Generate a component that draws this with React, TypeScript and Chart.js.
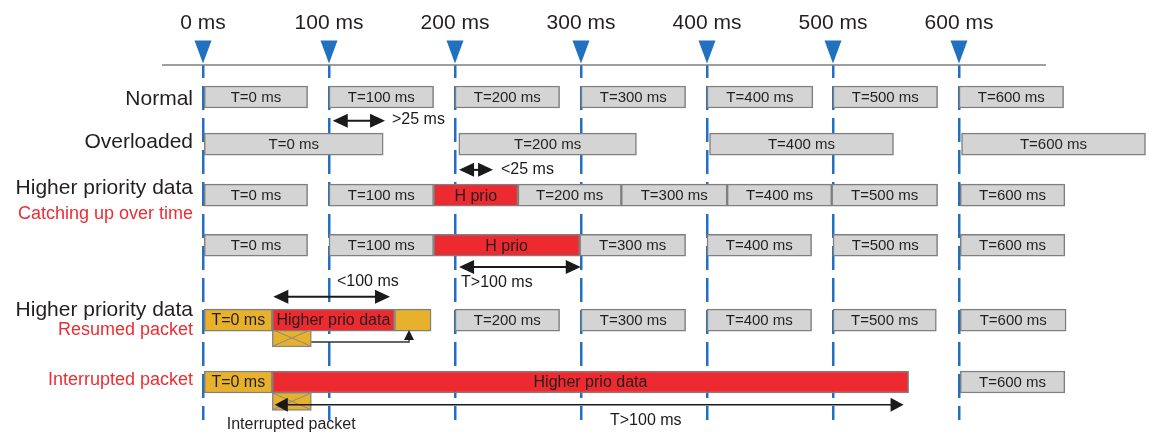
import React, { useEffect, useRef } from 'react';
import { Chart, registerables } from 'chart.js';

Chart.register(...registerables);

// ---------- data ----------
const timeTicks = [0, 100, 200, 300, 400, 500, 600];
const timeTickLabels = ['0 ms', '100 ms', '200 ms', '300 ms', '400 ms', '500 ms', '600 ms'];

// packet: [start ms, end ms, label, kind]
type Packet = [number, number, string, string];
const normalPackets: Packet[] = [
  [0, 83, 'T=0 ms', 'data'], [100, 183, 'T=100 ms', 'data'], [200, 283, 'T=200 ms', 'data'],
  [300, 383, 'T=300 ms', 'data'], [400, 484, 'T=400 ms', 'data'], [500, 583, 'T=500 ms', 'data'],
  [600, 683, 'T=600 ms', 'data'],
];
const overloadedPackets: Packet[] = [
  [1, 143, 'T=0 ms', 'data'], [203, 344, 'T=200 ms', 'data'],
  [402, 548, 'T=400 ms', 'data'], [602, 748, 'T=600 ms', 'data'],
];
const priorityPackets: Packet[] = [
  [0, 83, 'T=0 ms', 'data'], [100, 183, 'T=100 ms', 'data'], [183, 250, 'H prio', 'prio'],
  [250, 332, 'T=200 ms', 'data'], [332, 416, 'T=300 ms', 'data'], [416, 499, 'T=400 ms', 'data'],
  [499, 583, 'T=500 ms', 'data'], [601, 684, 'T=600 ms', 'data'],
];
const catchUpPackets: Packet[] = [
  [0, 83, 'T=0 ms', 'data'], [100, 183, 'T=100 ms', 'data'], [183, 299, 'H prio', 'prio'],
  [299, 383, 'T=300 ms', 'data'], [400, 483, 'T=400 ms', 'data'], [500, 583, 'T=500 ms', 'data'],
  [601, 684, 'T=600 ms', 'data'],
];
const resumedPackets: Packet[] = [
  [0, 55, 'T=0 ms', 'paused'], [55, 152, 'Higher prio data', 'prio'], [152, 181, '', 'paused'],
  [200, 283, 'T=200 ms', 'data'], [300, 383, 'T=300 ms', 'data'], [400, 483, 'T=400 ms', 'data'],
  [500, 582, 'T=500 ms', 'data'], [601, 685, 'T=600 ms', 'data'],
];
const interruptedPackets: Packet[] = [
  [0, 55, 'T=0 ms', 'paused'], [55, 560, 'Higher prio data', 'prio'], [601, 684, 'T=600 ms', 'data'],
];
// set-aside fragments of the paused packet: [start, end]
const heldFragments: [number, number][] = [[55, 86], [55, 86]];

// lanes on the vertical (row) scale
const rowLanes = [0, 0.95, 1.98, 2.99, 4.5, 5.75];
const heldLanes = [4.86, 6.14];

// row titles
const rowTitles = ['Normal', 'Overloaded', 'Higher priority data', 'Catching up over time',
  'Higher priority data', 'Resumed packet', 'Interrupted packet'];
const rowTitleLanes = [0.04, 0.91, 1.84, 2.36, 4.3, 4.7, 5.71];
const rowTitleIsNote = [false, false, false, true, false, true, true];

// measurement arrows: [from ms, to ms, lane, label, label ms, label lane]
type Gap = [number, number, number, string, number, number];
const gapArrows: Gap[] = [
  [103, 144.5, 0.48, '>25 ms', 150, 0.46],
  [203.2, 230.2, 1.47, '<25 ms', 236.5, 1.47],
  [203.2, 299.8, 3.43, 'T>100 ms', 204.8, 3.75],
  [55.8, 148.4, 4.03, '<100 ms', 106.3, 3.73],
];
const longArrow: Gap = [57, 556, 6.21, 'T>100 ms', 323, 6.52];
const resumePath = { fromMs: 86, fromLane: 4.94, turnMs: 163.5, toLane: 4.7 };
const fragmentNote = { text: 'Interrupted packet', ms: 70, lane: 6.6 };
const baselineRange = [-32.5, 669];

// ---------- styles ----------
const FONT = '"Liberation Sans", Arial, Helvetica, sans-serif';
const BLUE = '#2271c1';
const TEXT = '#231f20';
const NOTE_RED = '#ec2d33';
const kindColor: Record<string, string> = { data: '#d4d4d4', prio: '#ed2a2f', paused: '#e8b12c' };

const rows = [normalPackets, overloadedPackets, priorityPackets, catchUpPackets, resumedPackets, interruptedPackets];
const allPackets = rows.flatMap((r, ri) => r.map((p) => ({ p, lane: rowLanes[ri] })));

function head(ctx: CanvasRenderingContext2D, tx: number, ty: number, dx: number, dy: number, len: number, half: number) {
  const bx = tx - dx * len, by = ty - dy * len;
  const px = -dy, py = dx;
  ctx.beginPath();
  ctx.moveTo(tx, ty);
  ctx.lineTo(bx + px * half, by + py * half);
  ctx.lineTo(bx - px * half, by - py * half);
  ctx.closePath();
  ctx.fill();
}

const overlay = {
  id: 'timingOverlay',
  afterDatasetsDraw(chart: any) {
    const ctx: CanvasRenderingContext2D = chart.ctx;
    ctx.save();
    const meta = chart.getDatasetMeta(0);
    meta.data.forEach((el: any, i: number) => {
      const [, , label, kind] = allPackets[i].p;
      if (!label) return;
      const { x, y, base } = el.getProps(['x', 'y', 'base'], true);
      ctx.font = `${kind === 'data' ? 15 : 16}px ${FONT}`;
      ctx.fillStyle = TEXT;
      ctx.textAlign = 'center';
      ctx.textBaseline = 'middle';
      ctx.fillText(label, (x + base) / 2, y + 1);
    });
    const held = chart.getDatasetMeta(1);
    held.data.forEach((el: any) => {
      const { x, y, base, height } = el.getProps(['x', 'y', 'base', 'height'], true);
      const l = Math.min(x, base), r = Math.max(x, base);
      const t = y - height / 2, b = y + height / 2;
      ctx.strokeStyle = '#8a8a8a';
      ctx.lineWidth = 1;
      ctx.beginPath();
      ctx.moveTo(l + 1, t + 1); ctx.lineTo(r - 1, b - 1);
      ctx.moveTo(r - 1, t + 1); ctx.lineTo(l + 1, b - 1);
      ctx.stroke();
    });
    ctx.restore();
  },
  afterDraw(chart: any) {
    const ctx: CanvasRenderingContext2D = chart.ctx;
    const xs = chart.scales.x, ys = chart.scales.y;
    const top = chart.chartArea.top;
    ctx.save();
    // baseline
    ctx.strokeStyle = '#7f7f7f';
    ctx.lineWidth = 1.5;
    ctx.beginPath();
    ctx.moveTo(xs.getPixelForValue(baselineRange[0]), top);
    ctx.lineTo(xs.getPixelForValue(baselineRange[1]), top);
    ctx.stroke();
    // markers
    ctx.fillStyle = BLUE;
    timeTicks.forEach((v) => {
      const px = xs.getPixelForValue(v);
      ctx.beginPath();
      ctx.moveTo(px - 8.5, top - 24.5);
      ctx.lineTo(px + 8.5, top - 24.5);
      ctx.lineTo(px, top - 1.5);
      ctx.closePath();
      ctx.fill();
    });
    // gap arrows
    ctx.fillStyle = '#1a1a1a';
    ctx.strokeStyle = '#1a1a1a';
    ctx.font = `16px ${FONT}`;
    ctx.textBaseline = 'middle';
    ctx.textAlign = 'left';
    gapArrows.forEach(([a, b, lane, text, tm, tl]) => {
      const x1 = xs.getPixelForValue(a), x2 = xs.getPixelForValue(b), y = ys.getPixelForValue(lane);
      ctx.lineWidth = 2;
      ctx.beginPath();
      ctx.moveTo(x1 + 8, y); ctx.lineTo(x2 - 8, y);
      ctx.stroke();
      head(ctx, x1, y, -1, 0, 15, 7);
      head(ctx, x2, y, 1, 0, 15, 7);
      ctx.fillText(text, xs.getPixelForValue(tm), ys.getPixelForValue(tl));
    });
    // long arrow
    {
      const [a, b, lane, text, tm, tl] = longArrow;
      const x1 = xs.getPixelForValue(a), x2 = xs.getPixelForValue(b), y = ys.getPixelForValue(lane);
      ctx.lineWidth = 1.5;
      ctx.beginPath();
      ctx.moveTo(x1 + 6, y); ctx.lineTo(x2 - 6, y);
      ctx.stroke();
      head(ctx, x1, y, -1, 0, 13, 7);
      head(ctx, x2, y, 1, 0, 13, 7);
      ctx.fillText(text, xs.getPixelForValue(tm), ys.getPixelForValue(tl));
    }
    // resume path
    {
      const x1 = xs.getPixelForValue(resumePath.fromMs), x2 = xs.getPixelForValue(resumePath.turnMs);
      const y1 = ys.getPixelForValue(resumePath.fromLane), y2 = ys.getPixelForValue(resumePath.toLane);
      ctx.strokeStyle = '#333';
      ctx.fillStyle = '#1a1a1a';
      ctx.lineWidth = 1.5;
      ctx.beginPath();
      ctx.moveTo(x1, y1); ctx.lineTo(x2, y1); ctx.lineTo(x2, y2 + 6);
      ctx.stroke();
      head(ctx, x2, y2, 0, -1, 10, 5);
    }
    // fragment note
    ctx.fillStyle = TEXT;
    ctx.textAlign = 'center';
    ctx.fillText(fragmentNote.text, xs.getPixelForValue(fragmentNote.ms), ys.getPixelForValue(fragmentNote.lane));
    ctx.restore();
  },
};

export default function App() {
  const ref = useRef<HTMLCanvasElement>(null);
  useEffect(() => {
    document.body.style.margin = '0';
    const canvas = ref.current!;
    const chart = new Chart(canvas, {
      type: 'bar',
      data: {
        datasets: [
          {
            label: 'packets',
            data: allPackets.map(({ p, lane }) => ({ x: [p[0], p[1]], y: lane })) as any,
            backgroundColor: allPackets.map(({ p }) => kindColor[p[3]]),
            borderColor: '#7f7f7f',
            borderWidth: 1.5,
            borderSkipped: false,
            barThickness: 22,
            grouped: false,
          } as any,
          {
            label: 'held',
            data: heldFragments.map(([s, e], i) => ({ x: [s, e], y: heldLanes[i] })) as any,
            backgroundColor: kindColor.paused,
            borderColor: '#8a8a8a',
            borderWidth: 1.5,
            borderSkipped: false,
            barThickness: 18,
            grouped: false,
          } as any,
        ],
      },
      options: {
        indexAxis: 'y',
        animation: false,
        responsive: false,
        devicePixelRatio: 1,
        layout: { padding: { left: 0, right: 0, top: 0, bottom: 13 } },
        plugins: { legend: { display: false }, tooltip: { enabled: false } },
        scales: {
          x: {
            type: 'linear',
            position: 'top',
            min: -3.968,
            max: 750.79,
            afterFit: (s: any) => { s.height = 65; s.paddingLeft = 0; s.paddingRight = 0; },
            afterBuildTicks: (s: any) => { s.ticks = timeTicks.map((v) => ({ value: v })); },
            ticks: {
              autoSkip: false,
              maxRotation: 0,
              padding: 29,
              color: TEXT,
              font: { family: FONT, size: 21 },
              callback: (_v: any, i: number) => timeTickLabels[i],
            },
            grid: { color: BLUE, lineWidth: 2.5, drawTicks: false },
            border: { display: false, dash: [24, 8], dashOffset: 11 },
          },
          y: {
            type: 'linear',
            reverse: true,
            offset: false,
            min: -0.6456,
            max: 6.516,
            afterFit: (s: any) => { s.width = 198; s.paddingTop = 0; s.paddingBottom = 0; },
            afterBuildTicks: (s: any) => { s.ticks = rowTitleLanes.map((v) => ({ value: v })); },
            ticks: {
              autoSkip: false,
              padding: 5,
              color: (c: any) => (rowTitleIsNote[c.index] ? NOTE_RED : TEXT),
              font: (c: any) => ({ family: FONT, size: rowTitleIsNote[c.index] ? 18 : 21 }),
              callback: (_v: any, i: number) => rowTitles[i],
            },
            grid: { display: false, drawTicks: false },
            border: { display: false },
          },
        },
      } as any,
      plugins: [overlay],
    });
    return () => chart.destroy();
  }, []);
  return (
    <div style={{ width: 1149, height: 433 }}>
      <canvas ref={ref} width={1149} height={433} style={{ display: 'block' }} />
    </div>
  );
}
